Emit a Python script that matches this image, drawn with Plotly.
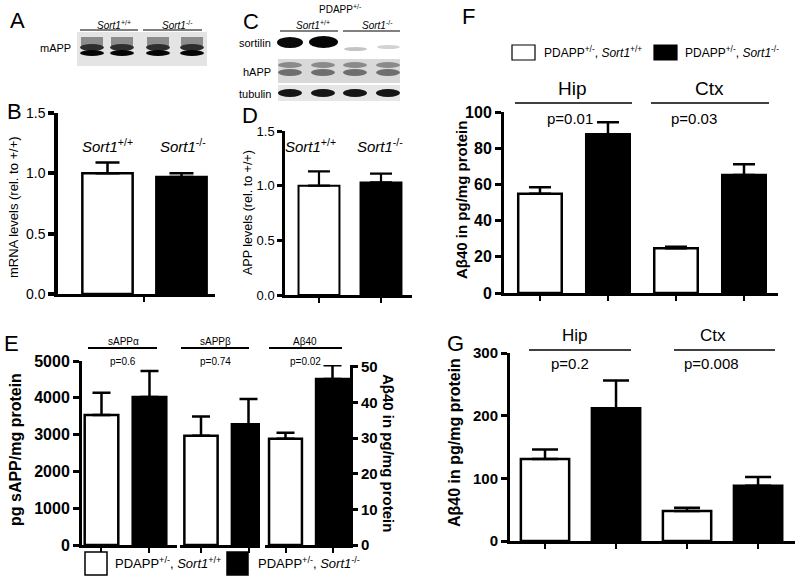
import plotly.graph_objects as go

W, H = 800, 581
FONT = "Liberation Sans, Arial, sans-serif"

# ---------------- data ----------------
b_genotypes = ["Sort1+/+", "Sort1-/-"]
b_vals = [1.00, 0.97]
b_err = [0.09, 0.03]

d_genotypes = ["Sort1+/+", "Sort1-/-"]
d_vals = [1.00, 1.03]
d_err = [0.13, 0.08]

e_groups = ["sAPPα", "sAPPβ", "Aβ40"]
e_pvals = ["p=0.6", "p=0.74", "p=0.02"]
e_wt = [3530, 2970, 29.8]
e_wt_err = [610, 520, 1.7]
e_ko = [4020, 3280, 46.6]
e_ko_err = [710, 690, 3.8]

f_regions = ["Hip", "Ctx"]
f_pvals = ["p=0.01", "p=0.03"]
f_wt = [54.8, 24.7]
f_wt_err = [3.6, 0.9]
f_ko = [87.7, 65.2]
f_ko_err = [6.6, 6.0]

g_regions = ["Hip", "Ctx"]
g_pvals = ["p=0.2", "p=0.008"]
g_wt = [131, 48]
g_wt_err = [15, 5]
g_ko = [212, 88]
g_ko_err = [44, 14]

# ---------------- helpers ----------------
def P(x):
    return x / W

def Q(y):
    return 1 - y / H

def xdom(a, b):
    return [P(a), P(b)]

def ydom(top, bottom):
    return [Q(bottom), Q(top)]

annotations = []
shapes = []

def text(x, y, s, size=12, anchor="center", bold=False, angle=0, color="black"):
    annotations.append(dict(
        x=P(x), y=Q(y), xref="paper", yref="paper", text=s, showarrow=False,
        xanchor=anchor, yanchor="middle", textangle=angle,
        font=dict(family=FONT, size=size, color=color, weight="bold" if bold else "normal")))

def hline(x0, x1, y, w=1.2, color="black"):
    shapes.append(dict(type="line", xref="paper", yref="paper", x0=P(x0), x1=P(x1),
                       y0=Q(y), y1=Q(y), line=dict(color=color, width=w)))

def rect(x0, y0, x1, y1, fill, lw=0, lc="black"):
    shapes.append(dict(type="rect", xref="paper", yref="paper", x0=P(x0), x1=P(x1),
                       y0=Q(y1), y1=Q(y0), fillcolor=fill, line=dict(width=lw, color=lc)))

def ell(x0, y0, x1, y1, fill, opacity=1):
    shapes.append(dict(type="circle", xref="paper", yref="paper", x0=P(x0), x1=P(x1),
                       y0=Q(y1), y1=Q(y0), fillcolor=fill, opacity=opacity, line=dict(width=0)))

fig = go.Figure()

def add_bars(xa, ya, xs, vals, errs, color, lw=2.5, cap=11, ethick=2.5, width=0.68):
    fig.add_trace(go.Bar(
        x=xs, y=vals, width=width, xaxis=xa, yaxis=ya,
        marker=dict(color=color, line=dict(color="black", width=lw)),
        error_y=dict(type="data", array=errs, arrayminus=[0] * len(errs), symmetric=False,
                     color="black", thickness=ethick, width=cap),
        showlegend=False, hoverinfo="skip"))

# ---------------- panel B ----------------
add_bars("x", "y", list(range(len(b_vals))), b_vals, b_err, ["white", "black"], cap=12)
# ---------------- panel D ----------------
add_bars("x2", "y2", list(range(len(d_vals))), d_vals, d_err, ["white", "black"], lw=2, cap=11, ethick=2.2, width=0.66)
# ---------------- panel E ----------------
e_xaxes = ["x3", "x4", "x5"]
for i, g in enumerate(e_groups):
    ya = "y3" if i < 2 else "y4"
    add_bars(e_xaxes[i], ya, [0, 1], [e_wt[i], e_ko[i]], [e_wt_err[i], e_ko_err[i]],
             ["white", "black"], cap=9, width=0.7)
# ---------------- panel F ----------------
add_bars("x6", "y5", [2 * i for i in range(len(f_wt))], f_wt, f_wt_err, "white", cap=11, width=0.64)
add_bars("x6", "y5", [2 * i + 1 for i in range(len(f_ko))], f_ko, f_ko_err, "black", cap=11, width=0.64)
# ---------------- panel G ----------------
add_bars("x7", "y6", [2 * i for i in range(len(g_wt))], g_wt, g_wt_err, "white", cap=13, width=0.68)
add_bars("x7", "y6", [2 * i + 1 for i in range(len(g_ko))], g_ko, g_ko_err, "black", cap=13, width=0.68)

def xax(dom, rng, anchor, tickvals, lw=3, ticklen=5):
    return dict(domain=dom, range=rng, anchor=anchor, showline=True, linecolor="black", linewidth=lw,
                ticks="outside", tickvals=tickvals, ticklen=ticklen, tickwidth=2, tickcolor="black",
                showticklabels=False, showgrid=False, zeroline=False, fixedrange=True, automargin=False)

def yax(dom, rng, anchor, tickvals, fmt, size, bold, lw=3, side="left", ticklen=6):
    return dict(domain=dom, range=rng, anchor=anchor, side=side, showline=True, linecolor="black",
                linewidth=lw, ticks="outside", tickvals=tickvals, tickformat=fmt, ticklen=ticklen,
                tickwidth=lw, tickcolor="black", showgrid=False, zeroline=False, fixedrange=True,
                automargin=False,
                tickfont=dict(family=FONT, size=size, color="black", weight="bold" if bold else "normal"))

layout = dict(
    width=W, height=H, autosize=False,
    margin=dict(l=0, r=0, t=0, b=0, pad=0, autoexpand=False),
    paper_bgcolor="white", plot_bgcolor="rgba(0,0,0,0)", barmode="overlay", showlegend=False,
    xaxis=xax(xdom(58, 215), [-0.669, 1.453], "y", [0.5]),
    yaxis=yax(ydom(113, 294), [0, 1.5], "x", [0, 0.5, 1.0, 1.5], ".1f", 14, False, lw=3.5),
    xaxis2=xax(xdom(285, 412), [-0.548, 1.5], "y2", [0, 1], lw=2.5),
    yaxis2=yax(ydom(131, 295), [0, 1.5], "x2", [0, 0.5, 1.0, 1.5], ".1f", 13, False, lw=2.5, ticklen=5),
    xaxis3=xax(xdom(82, 177), [-0.406, 1.573], "y3", [0, 1]),
    xaxis4=xax(xdom(180, 260), [-0.442, 1.242], "y3", [0, 1]),
    xaxis5=xax(xdom(265, 350), [-0.436, 1.372], "y3", [0, 1]),
    yaxis3=yax(ydom(361, 545), [0, 5000], "x3", [0, 1000, 2000, 3000, 4000, 5000], "d", 16, True),
    yaxis4=yax(ydom(365, 545), [0, 50.5], "x5", [0, 10, 20, 30, 40, 50], "d", 15, True, side="right", ticklen=5),
    xaxis6=xax(xdom(504, 778), [-0.529, 3.5], "y5", [0, 1, 2, 3]),
    yaxis5=yax(ydom(112, 293), [0, 100], "x6", [0, 20, 40, 60, 80, 100], "d", 16, True),
    xaxis7=xax(xdom(510, 795), [-0.493, 3.52], "y6", [0, 1, 2, 3]),
    yaxis6=yax(ydom(353, 541), [0, 300], "x7", [0, 100, 200, 300], "d", 15, True),
)

# ---------------- panel letters ----------------
for lab, x, y in [("A", 17, 20), ("B", 14, 112), ("C", 251, 21), ("D", 250, 116),
                  ("E", 11, 343), ("F", 468, 16), ("G", 455, 343)]:
    text(x, y, lab, size=22)

# ---------------- blot A ----------------
text(114, 25, "<i>Sort1</i><sup>+/+</sup>", size=10)
text(177, 25, "<i>Sort1</i><sup>-/-</sup>", size=10)
hline(80, 138, 30, 1)
hline(143, 202, 30, 1)
text(73, 48, "mAPP", size=11, anchor="right")
rect(77, 32, 207, 66, "#e4e4e4")
for cx in [92, 122, 158, 192]:
    rect(cx - 11, 37, cx + 11, 47, "#8c8c8c")
    ell(cx - 12, 44, cx + 12, 51, "#2e2e2e")
    ell(cx - 12, 50, cx + 12, 56, "#050505")

# ---------------- blot C ----------------
text(340, 9, "PDAPP<sup>+/-</sup>", size=10)
text(313, 25, "<i>Sort1</i><sup>+/+</sup>", size=10)
text(377, 25, "<i>Sort1</i><sup>-/-</sup>", size=10)
hline(280, 338, 31, 1)
hline(343, 400, 31, 1)
text(273, 43, "sortilin", size=11, anchor="right")
text(273, 72, "hAPP", size=11, anchor="right")
text(273, 94, "tubulin", size=11, anchor="right")
ell(277, 37, 303, 48, "#0a0a0a")
ell(309, 36, 338, 48, "#050505")
ell(344, 47, 367, 51, "#c4c4c4")
ell(377, 45, 400, 49, "#d2d2d2")
rect(278, 59, 400, 83, "#d9d9d9")
for cx in [290, 323, 355, 388]:
    ell(cx - 12, 62, cx + 12, 68, "#8a8a8a")
    ell(cx - 12, 69, cx + 12, 76, "#6e6e6e")
rect(278, 85, 400, 101, "#e6e6e6")
for cx in [290, 323, 355, 388]:
    ell(cx - 12, 89, cx + 12, 97, "#151515")

# ---------------- panel B/D texts ----------------
text(107, 145, "<i>Sort1</i><sup>+/+</sup>", size=15)
text(183, 145, "<i>Sort1</i><sup>-/-</sup>", size=15)
text(13, 207, "mRNA levels (rel. to +/+)", size=13, angle=-90)
text(310, 145, "<i>Sort1</i><sup>+/+</sup>", size=15)
text(380, 145, "<i>Sort1</i><sup>-/-</sup>", size=15)
text(248, 213, "APP levels (rel. to +/+)", size=12.5, angle=-90)

# ---------------- panel E texts ----------------
e_centers = [123, 215, 305]
e_lines = [(88, 157), (181, 249), (269, 342)]
for i, g in enumerate(e_groups):
    text(e_centers[i], 341, g, size=10)
    hline(e_lines[i][0], e_lines[i][1], 348, 1.8)
    text(e_centers[i], 361, e_pvals[i], size=10)
text(15, 450, "pg sAPP/mg protein", size=16, bold=True, angle=-90)
text(389, 453, "Aβ40 in pg/mg protein", size=15, bold=True, angle=90)
rect(85, 552, 107, 575, "white", lw=1.5)
text(113, 563, "PDAPP<sup>+/-</sup>, <i>Sort1</i><sup>+/+</sup>", size=13, anchor="left")
rect(227, 552, 248, 575, "black", lw=1.5)
text(256, 563, "PDAPP<sup>+/-</sup>, <i>Sort1</i><sup>-/-</sup>", size=13, anchor="left")

# ---------------- panel F texts ----------------
rect(512, 45, 535, 60, "white", lw=1.2)
text(542, 52, "PDAPP<sup>+/-</sup>, <i>Sort1</i><sup>+/+</sup>", size=12, anchor="left")
rect(654, 45, 677, 60, "black", lw=1.2)
text(683, 52, "PDAPP<sup>+/-</sup>, <i>Sort1</i><sup>-/-</sup>", size=12, anchor="left")
f_centers = [572, 709]
f_lines = [(515, 632), (651, 769)]
f_pcent = [570, 694]
for i, r in enumerate(f_regions):
    text(f_centers[i], 88, r, size=19)
    hline(f_lines[i][0], f_lines[i][1], 103, 1.5)
    text(f_pcent[i], 118, f_pvals[i], size=15)
text(461, 200, "Aβ40 in pg/mg protein", size=15, bold=True, angle=-90)

# ---------------- panel G texts ----------------
g_centers = [575, 713]
g_lines = [(529, 631), (674, 775)]
g_pcent = [570, 711]
for i, r in enumerate(g_regions):
    text(g_centers[i], 335, r, size=17)
    hline(g_lines[i][0], g_lines[i][1], 350, 1.5)
    text(g_pcent[i], 363, g_pvals[i], size=15)
text(455, 443, "Aβ40 in pg/mg protein", size=16, bold=True, angle=-90)

layout["annotations"] = annotations
layout["shapes"] = shapes
fig.update_layout(**layout)
fig.write_html("out.html", config={"displayModeBar": False},
               post_script="document.body.style.margin='0px';")
